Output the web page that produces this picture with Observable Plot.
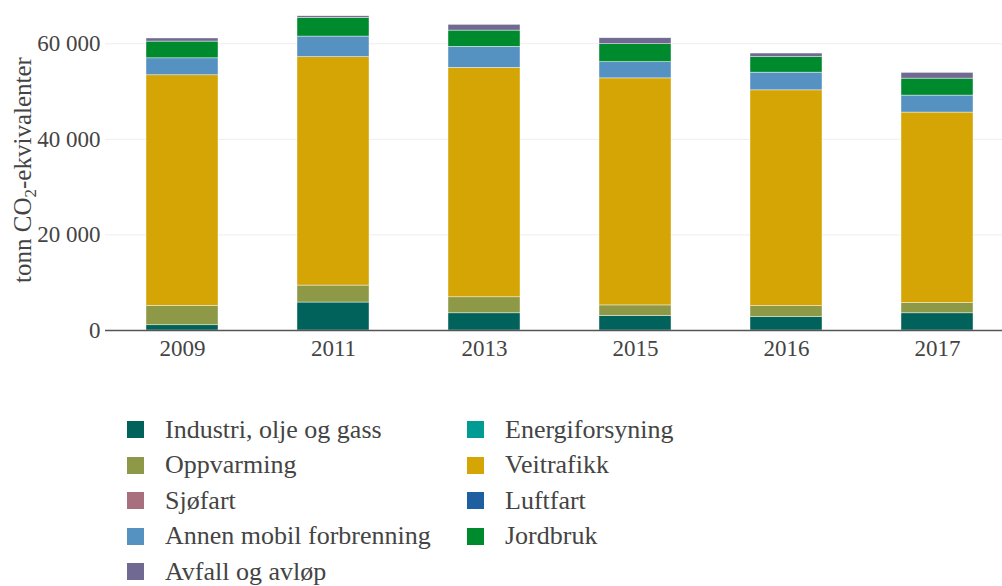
<!DOCTYPE html>
<html><head><meta charset="utf-8">
<script src="https://cdn.jsdelivr.net/npm/d3@7"></script>
<script src="https://cdn.jsdelivr.net/npm/@observablehq/plot@0.6"></script>
<style>
body{margin:0;background:#fff;font-family:"Liberation Serif",serif;color:#444}
#legend{display:grid;grid-template-columns:340px 340px;margin-left:127px;margin-top:40px}
.item{display:flex;align-items:center;height:35.5px;font-size:26px;white-space:nowrap}
.sw{width:17px;height:17px;margin-right:21px;flex:none}
</style></head><body><div id="chart"></div><div id="legend"></div>
<script>
const years = ["2009","2011","2013","2015","2016","2017"];
const categories = ["Industri, olje og gass","Energiforsyning","Oppvarming","Veitrafikk","Sjøfart","Luftfart","Annen mobil forbrenning","Jordbruk","Avfall og avløp"];
const colors = ["#00625a","#009b93","#8d9946","#d4a504","#a8707f","#1e5fa2","#5592c2","#008a2e","#706a93"];
const industri   = [1100, 5850, 3600, 3050, 2850, 3600];
const energi     = [0, 0, 0, 0, 0, 0];
const oppvarming = [4050, 3550, 3350, 2200, 2250, 2150];
const veitrafikk = [48250, 47800, 48000, 47500, 45150, 39850];
const sjofart    = [0, 0, 0, 0, 0, 0];
const luftfart   = [0, 0, 0, 0, 0, 0];
const annenMobil = [3550, 4300, 4400, 3400, 3700, 3550];
const jordbruk   = [3500, 3900, 3400, 3750, 3250, 3550];
const avfall     = [650, 350, 1200, 1250, 750, 1200];
const yTicks = [0, 20000, 40000, 60000];

const series = [industri, energi, oppvarming, veitrafikk, sjofart, luftfart, annenMobil, jordbruk, avfall];
const rows = [];
categories.forEach((c, i) => years.forEach((y, j) => { if (series[i][j] > 0) rows.push({year: y, category: c, value: series[i][j]}); }));

const fmt = d => d3.format(",")(d).replace(/,/g, " ");

const chart = Plot.plot({
  width: 1002, height: 372, marginLeft: 105, marginRight: 0, marginTop: 5, marginBottom: 42,
  style: {fontFamily: "Liberation Serif", fontSize: "23px", color: "#444", background: "white"},
  x: {domain: years, range: [105, 1013], paddingInner: 0.525, paddingOuter: 0.2625, label: null},
  y: {domain: [0, 68000], label: null},
  color: {domain: categories, range: colors},
  marks: [
    Plot.ruleY(yTicks.slice(1), {stroke: "#eeeeee", strokeWidth: 1}),
    Plot.barY(rows, {x: "year", y: "value", fill: "category", z: "category", order: categories, stroke: "white", strokeWidth: 0.6, strokeOpacity: 0.7}),
    Plot.ruleY([0], {stroke: "#555", strokeWidth: 1.5}),
    Plot.axisX({tickSize: 0, tickPadding: 9, label: null}),
    Plot.axisY({ticks: yTicks, tickSize: 0, tickPadding: 5, tickFormat: fmt, label: null})
  ]
});
document.getElementById("chart").appendChild(chart);

const svg = d3.select(chart);
const t = svg.append("text").attr("transform", "translate(31,170) rotate(-90)")
  .attr("text-anchor", "middle").attr("fill", "#444").style("font-size", "25px").style("font-family", "Liberation Serif");
t.append("tspan").text("tonn CO");
t.append("tspan").attr("dy", 5).style("font-size", "17px").text("2");
t.append("tspan").attr("dy", -5).text("-ekvivalenter");

const legend = d3.select("#legend");
categories.forEach((c, i) => {
  const it = legend.append("div").attr("class", "item");
  it.append("div").attr("class", "sw").style("background", colors[i]);
  it.append("span").text(c);
});
</script></body></html>
